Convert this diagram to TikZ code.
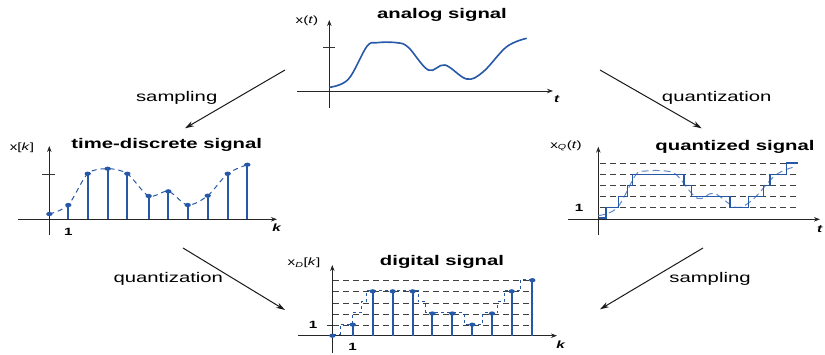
\documentclass[tikz,border=0pt]{standalone}
\usepackage{fontspec}
\setmainfont{Liberation Sans}[FakeStretch=1.45]
\usetikzlibrary{arrows.meta}
\definecolor{sigblue}{RGB}{38,88,168}
\definecolor{lightblue}{RGB}{95,135,200}
\begin{document}
\begin{tikzpicture}[x=1pt,y=-1pt,
  axis/.style={draw=black!85, line width=0.8pt, -{Stealth[length=6pt,width=4.5pt]}},
  title/.style={font=\fontsize{14}{16}\selectfont\bfseries, inner sep=0pt},
  lab/.style={font=\fontsize{14}{16}\selectfont, inner sep=0pt},
  small/.style={font=\fontsize{10.5}{12}\selectfont, inner sep=0pt},
  sig/.style={draw=sigblue, line width=1.6pt},
  stemline/.style={draw=sigblue, line width=2.2pt},
  level/.style={draw=black!75, dash pattern=on 6pt off 4pt, line width=0.7pt},
  conn/.style={-{Stealth[length=9pt,width=5.5pt]}, line width=1pt, draw=black!90},
  tickline/.style={draw=black!80, line width=0.6pt}
]
\useasboundingbox (0,0) rectangle (825,354);
\def\analogpts{(329.3,87.3) (348.3,79.3) (366.7,46.7) (376.7,42.7) (396.7,42.7) (408.3,47.3) (428.3,70) (445,65) (466.7,79) (483.3,71.7) (506.7,46.7) (526.7,38.3)}
\def\stairpath{(599,218) -- (606,218) -- (606,207.7) -- (618.3,207.7) -- (618.3,196.3) -- (627.3,196.3) -- (627.3,185.3) -- (632.7,185.3) -- (632.7,174.3) -- (684,174.3) -- (684,185.3) -- (691.7,185.3) -- (691.7,196.3) -- (730,196.3) -- (730,207.7) -- (748.3,207.7) -- (748.3,196.3) -- (763.3,196.3) -- (763.3,185.3) -- (770,185.3) -- (770,174.3) -- (786.7,174.3) -- (786.7,163) -- (798.3,163)}

% ---------- analog signal ----------
\node[title] (tA) at (442,15) {analog signal};
\draw[axis] (297,91) -- (553,91);
\draw[axis] (329.3,108) -- (329.3,20);
\draw[tickline] (323,47) -- (335,47);
\node[small] (lA) at (307,21) {x(\textit{t})};
\node[small] (tAx) at (557,99) {\textit{\textbf{t}}};
\draw[sig] plot[smooth, tension=0.6] coordinates {\analogpts};

% ---------- time-discrete signal ----------
\node[title] (tT) at (166.7,145) {time-discrete signal};
\draw[axis] (18,219.3) -- (277,219.3);
\draw[axis] (49.3,235) -- (49.3,146);
\draw[tickline] (42,174) -- (55,174);
\node[small] (lT) at (22,147.5) {x[\textit{k}]};
\node[small] (kT) at (277,228) {\textit{\textbf{k}}};
\node[small] (oneT) at (68.3,232) {\textbf{1}};
\draw[sigblue, line width=1pt, dash pattern=on 5pt off 4pt] plot[smooth, tension=0.5] coordinates {(49.3,214) (68.3,205) (87.7,173.7) (107.7,168.7) (127.3,173.7) (148.7,196) (168.3,191.3) (187.7,205) (207.7,195.7) (227.7,173.7) (247.3,164.7)};
\foreach \x/\y in {68.3/205, 87.7/173.7, 107.7/168.7, 127.3/173.7, 148.7/196, 168.3/191.3, 187.7/205, 207.7/195.7, 227.7/173.7, 247.3/164.7}
  \draw[stemline] (\x,219.3) -- (\x,\y);
\foreach \x/\y in {49.3/214, 68.3/205, 87.7/173.7, 107.7/168.7, 127.3/173.7, 148.7/196, 168.3/191.3, 187.7/205, 207.7/195.7, 227.7/173.7, 247.3/164.7}
  \fill[sigblue] (\x,\y) ellipse [x radius=3.2, y radius=2.1];

% ---------- quantized signal ----------
\node[title] (tQ) at (735,146.7) {quantized signal};
\foreach \y in {207.7,196.3,185.3,174.3,163}
  \draw[level] (600,\y) -- (798,\y);
\draw[axis] (568,219.3) -- (820,219.3);
\draw[axis] (598.3,235) -- (598.3,146.7);
\node[small] (lQ) at (566,146) {x\textsubscript{\textit{Q}}(\textit{t})};
\node[small] (oneQ) at (579,207.7) {\textbf{1}};
\node[small] (tQx) at (820,229) {\textit{\textbf{t}}};
\begin{scope}[shift={(269,128.3)}]
  \draw[lightblue, line width=1pt, dash pattern=on 7pt off 4pt] plot[smooth, tension=0.6] coordinates {\analogpts};
\end{scope}
\draw[sigblue, line width=1.5pt] \stairpath;

% ---------- digital signal ----------
\node[title] (tD) at (442,262) {digital signal};
\foreach \y in {325,314,303,291.7,280.3}
  \draw[level] (333,\y) -- (533,\y);
\draw[axis] (298,335.7) -- (557,335.7);
\draw[axis] (332.3,353) -- (332.3,265);
\draw[tickline] (326.7,325) -- (332.3,325);
\node[small] (lD) at (304,263) {x\textsubscript{\textit{D}}[\textit{k}]};
\node[small] (kD) at (561,345) {\textit{\textbf{k}}};
\node[small] (oneDy) at (313,325) {\textbf{1}};
\node[small] (oneDx) at (352.7,346.7) {\textbf{1}};
\begin{scope}[shift={(-266,116.4)}]
  \draw[sigblue, line width=1pt, dash pattern=on 3pt off 3pt] \stairpath;
\end{scope}
\foreach \x/\n in {352.7/1, 372.7/4, 392.7/4, 412.7/4, 432.3/2, 452.3/2, 472.3/1, 492/2, 511.7/4, 532.3/5}
  \draw[stemline] (\x,335.7) -- (\x,335.7-11.1*\n);
\foreach \x/\n in {332.3/0, 352.7/1, 372.7/4, 392.7/4, 412.7/4, 432.3/2, 452.3/2, 472.3/1, 492/2, 511.7/4, 532.3/5}
  \fill[sigblue] (\x,335.7-11.1*\n) ellipse [x radius=3.2, y radius=2.1];

% ---------- connectors ----------
\coordinate (a1s) at (285,70);  \coordinate (a1e) at (185,128.3);
\coordinate (a2s) at (600,70);  \coordinate (a2e) at (701.7,128.3);
\coordinate (a3s) at (183,248); \coordinate (a3e) at (285,310);
\coordinate (a4s) at (703,248); \coordinate (a4e) at (600,309.3);
\draw[conn] (a1s) -- (a1e);
\draw[conn] (a2s) -- (a2e);
\draw[conn] (a3s) -- (a3e);
\draw[conn] (a4s) -- (a4e);
\node[lab] (s1) at (176.7,98) {sampling};
\node[lab] (q1) at (716.7,98) {quantization};
\node[lab] (q2) at (168.3,279.3) {quantization};
\node[lab] (s2) at (710,279.3) {sampling};
\end{tikzpicture}
\end{document}
